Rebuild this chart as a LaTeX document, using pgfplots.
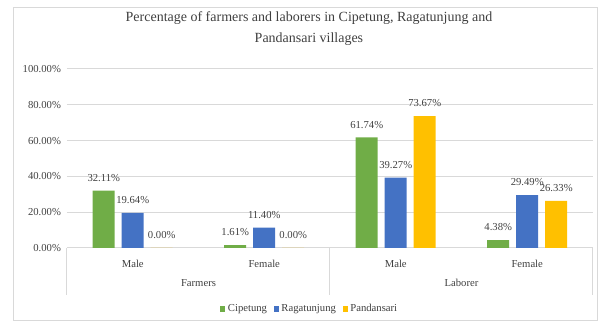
\documentclass[border=0pt]{standalone}
\usepackage{fontspec}
\setmainfont{Liberation Serif}
\usepackage{pgfplots}
\pgfplotsset{compat=1.18}
\definecolor{cgreen}{RGB}{112,173,71}
\definecolor{cblue}{RGB}{68,114,196}
\definecolor{cyellow}{RGB}{255,192,0}
\definecolor{gridc}{RGB}{217,217,217}
\definecolor{txt}{RGB}{64,64,64}
\def\px{0.75pt}
\begin{document}
\begin{tikzpicture}
\useasboundingbox (-67*\px,-75*\px) rectangle (541*\px,248*\px);
\draw[gridc, line width=0.6pt] (-54*\px,-72*\px) rectangle (530*\px,241*\px);
\begin{axis}[
  at={(0,0)}, anchor=south west,
  scale only axis, width=394.5pt, height=134.25pt,
  xmin=-0.5, xmax=3.5, ymin=0, ymax=100,
  clip=false,
  axis line style={draw=none},
  ybar=5.25pt, bar width=16.5pt,
  xtick={0,1,2,3}, xticklabels={Male,Female,Male,Female},
  ytick={0,20,...,100},
  major tick length=0pt,
  yticklabel={\pgfmathprintnumber[fixed,fixed zerofill,precision=2]{\tick}\%},
  /pgf/number format/assume math mode=true,
  ymajorgrids, grid style={gridc, line width=0.75pt},
  ticklabel style={font=\fontsize{8}{9}\selectfont, text=txt},
  xticklabel style={yshift=-5.5pt},
  yticklabel style={xshift=-1pt},
  nodes near coords={\pgfmathprintnumber[fixed,fixed zerofill,precision=2]{\pgfplotspointmeta}\%},
  nodes near coords style={font=\fontsize{8}{9}\selectfont, text=txt, anchor=base, yshift=7pt, inner sep=0pt},
  title={Percentage of farmers and laborers in Cipetung, Ragatunjung and\\Pandansari villages},
  title style={at={(0.46,1)}, anchor=south, yshift=8pt, align=center, text=txt, font=\fontsize{10.5}{15.5}\selectfont},
  legend style={at={(axis description cs:0.462,-0.341)}, anchor=center, legend columns=3, draw=none, font=\fontsize{8}{9}\selectfont, text=txt, /tikz/every even column/.append style={column sep=3pt}},
  legend image code/.code={\fill[#1] (0pt,-1.9pt) rectangle (3.8pt,1.9pt);},
]
\addplot[fill=cgreen, draw=none] coordinates {(0,32.11) (1,1.61) (2,61.74) (3,4.38)};
\addplot[fill=cblue, draw=none] coordinates {(0,19.64) (1,11.40) (2,39.27) (3,29.49)};
\addplot[fill=cyellow, draw=none] coordinates {(0,0.00) (1,0.00) (2,73.67) (3,26.33)};
\legend{Cipetung,Ragatunjung,Pandansari}
\draw[gridc, line width=0.75pt] (axis cs:-0.5,0) -- ++(0pt,-35.25pt);
\draw[gridc, line width=0.75pt] (axis cs:1.5,0) -- ++(0pt,-35.25pt);
\draw[gridc, line width=0.75pt] (axis cs:3.5,0) -- ++(0pt,-35.25pt);
\node[font=\fontsize{8}{9}\selectfont, text=txt] at (axis cs:0.5,0) [yshift=-26.25pt] {Farmers};
\node[font=\fontsize{8}{9}\selectfont, text=txt] at (axis cs:2.5,0) [yshift=-26.25pt] {Laborer};
\end{axis}
\end{tikzpicture}
\end{document}
